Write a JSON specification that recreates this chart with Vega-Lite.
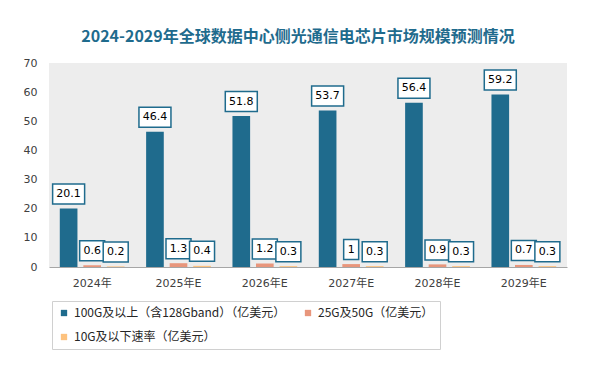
{
  "$schema": "https://vega.github.io/schema/vega-lite/v6.json",
  "width": 518,
  "height": 204,
  "autosize": {"type": "none"},
  "padding": {"left": 49, "top": 63, "right": 26, "bottom": 101},
  "background": "white",
  "title": {
    "text": "2024-2029年全球数据中心侧光通信电芯片市场规模预测情况",
    "font": "Noto Sans CJK SC",
    "fontSize": 16,
    "fontWeight": "bold",
    "color": "#1f6b8d",
    "anchor": "middle",
    "frame": "group",
    "dx": -10,
    "offset": 12
  },
  "config": {
    "view": {"fill": "#ededed", "stroke": null},
    "axis": {"labelFont": "DejaVu Sans, Noto Sans CJK SC", "labelFontSize": 11, "labelColor": "#404040", "grid": false, "ticks": false, "title": null}
  },
  "data": {
    "values": [
      {"year": "2024年", "series": "100G及以上（含128Gband）（亿美元）", "value": 20.1},
      {"year": "2024年", "series": "25G及50G（亿美元）", "value": 0.6},
      {"year": "2024年", "series": "10G及以下速率（亿美元）", "value": 0.2},
      {"year": "2025年E", "series": "100G及以上（含128Gband）（亿美元）", "value": 46.4},
      {"year": "2025年E", "series": "25G及50G（亿美元）", "value": 1.3},
      {"year": "2025年E", "series": "10G及以下速率（亿美元）", "value": 0.4},
      {"year": "2026年E", "series": "100G及以上（含128Gband）（亿美元）", "value": 51.8},
      {"year": "2026年E", "series": "25G及50G（亿美元）", "value": 1.2},
      {"year": "2026年E", "series": "10G及以下速率（亿美元）", "value": 0.3},
      {"year": "2027年E", "series": "100G及以上（含128Gband）（亿美元）", "value": 53.7},
      {"year": "2027年E", "series": "25G及50G（亿美元）", "value": 1.0},
      {"year": "2027年E", "series": "10G及以下速率（亿美元）", "value": 0.3},
      {"year": "2028年E", "series": "100G及以上（含128Gband）（亿美元）", "value": 56.4},
      {"year": "2028年E", "series": "25G及50G（亿美元）", "value": 0.9},
      {"year": "2028年E", "series": "10G及以下速率（亿美元）", "value": 0.3},
      {"year": "2029年E", "series": "100G及以上（含128Gband）（亿美元）", "value": 59.2},
      {"year": "2029年E", "series": "25G及50G（亿美元）", "value": 0.7},
      {"year": "2029年E", "series": "10G及以下速率（亿美元）", "value": 0.3}
    ]
  },
  "encoding": {
    "x": {
      "field": "year", "type": "nominal", "sort": null,
      "scale": {"paddingInner": 0.25, "paddingOuter": 0.125},
      "axis": {"labelAngle": 0, "labelPadding": 10, "domainColor": "#a6a6a6", "labelFontSize": 11}
    },
    "xOffset": {
      "field": "series", "type": "nominal",
      "sort": ["100G及以上（含128Gband）（亿美元）", "25G及50G（亿美元）", "10G及以下速率（亿美元）"],
      "scale": {"paddingInner": 0.25}
    },
    "y": {
      "field": "value", "type": "quantitative",
      "scale": {"domain": [0, 70]},
      "axis": {"values": [0, 10, 20, 30, 40, 50, 60, 70], "domain": false, "labelPadding": 12}
    }
  },
  "layer": [
    {
      "mark": {"type": "bar"},
      "encoding": {
        "color": {
          "field": "series", "type": "nominal",
          "sort": ["100G及以上（含128Gband）（亿美元）", "25G及50G（亿美元）", "10G及以下速率（亿美元）"],
          "scale": {
            "domain": ["100G及以上（含128Gband）（亿美元）", "25G及50G（亿美元）", "10G及以下速率（亿美元）"],
            "range": ["#1f6b8d", "#e8967c", "#fdc27e"]
          },
          "legend": {
            "title": null,
            "orient": "none",
            "direction": "horizontal",
            "legendX": 3,
            "legendY": 238,
            "columns": 2,
            "columnPadding": 16,
            "rowPadding": 12,
            "padding": 6,
            "strokeColor": "#d0d0d0",
            "symbolType": "square",
            "symbolSize": 40,
            "symbolStrokeWidth": 0,
            "labelFont": "Noto Sans CJK SC",
            "labelFontSize": 12,
            "labelColor": "#262626",
            "labelLimit": 400
          }
        }
      }
    },
    {
      "mark": {"type": "point", "filled": true, "fill": "white", "stroke": "#1f6b8d", "strokeWidth": 1.5, "opacity": 1, "yOffset": -14.5},
      "encoding": {
        "shape": {
          "condition": [
            {"test": "datum.value >= 10", "value": "M-1,-0.625H1V0.625H-1Z"},
            {"test": "datum.value == 1", "value": "M-1,-1.333H1V1.333H-1Z"}
          ],
          "value": "M-1,-0.8H1V0.8H-1Z"
        },
        "size": {
          "condition": [
            {"test": "datum.value >= 10", "value": 1024},
            {"test": "datum.value == 1", "value": 225}
          ],
          "value": 625
        }
      }
    },
    {
      "mark": {"type": "text", "font": "DejaVu Sans", "fontSize": 11, "color": "#000000", "baseline": "middle", "yOffset": -14.5},
      "encoding": {
        "text": {"field": "value", "type": "quantitative", "format": ".1~f"}
      }
    }
  ]
}
